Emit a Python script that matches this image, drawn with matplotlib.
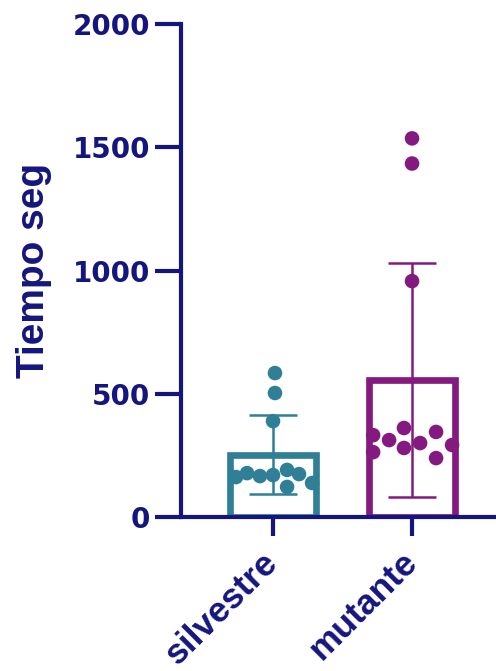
import numpy as np
import matplotlib.pyplot as plt

plt.rcParams['font.family'] = ['DejaVu Sans']
plt.rcParams['font.weight'] = 'bold'

groups = ['silvestre', 'mutante']
colors = ['#2f7f96', '#84197f']
navy = '#15157f'

silvestre = [584, 503, 389, 162, 178, 166, 170, 191, 174, 138, 122]
silvestre_jitter = [0.014, 0.014, 0.0, -0.266, -0.187, -0.094, 0.0, 0.101, 0.187, 0.281, 0.101]
mutante = [1536, 1434, 957, 332, 263, 312, 361, 280, 300, 345, 239, 292]
mutante_jitter = [0.0, 0.0, 0.0, -0.28, -0.28, -0.165, -0.058, -0.058, 0.058, 0.173, 0.173, 0.288]

data = [silvestre, mutante]
jitter = [silvestre_jitter, mutante_jitter]

fig = plt.figure(figsize=(4.96, 6.71), dpi=100)
ax = fig.add_axes([181 / 496, 1 - 517 / 671, 1 - 181 / 496, 493 / 671])

for i, (vals, jit, c) in enumerate(zip(data, jitter, colors)):
    vals = np.array(vals, dtype=float)
    mean = vals.mean()
    sd = vals.std(ddof=1)
    ax.bar(i, mean, width=0.62, facecolor='none', edgecolor=c, linewidth=4.8, zorder=2)
    ax.errorbar(i, mean, yerr=sd, color=c, elinewidth=1.8, capsize=17, capthick=1.8, zorder=3)
    ax.scatter(i + np.array(jit), vals, s=110, color=c, edgecolors='none', zorder=4)

ax.set_ylim(0, 2000)
ax.set_xlim(-0.662, 1.604)
ax.set_yticks([0, 500, 1000, 1500, 2000])
ax.set_xticks([0, 1])
ax.set_xticklabels(groups, rotation=45, ha='right', va='center', rotation_mode='anchor',
                   family='Liberation Sans', fontsize=25.5, fontweight='bold')

for side in ['top', 'right']:
    ax.spines[side].set_visible(False)
for side in ['left', 'bottom']:
    ax.spines[side].set_color(navy)
    ax.spines[side].set_linewidth(3)
    ax.spines[side].set_zorder(5)

ax.tick_params(axis='y', colors=navy, width=3, length=19, labelsize=20, pad=3)
ax.tick_params(axis='x', colors=navy, width=3, length=14, pad=15)
for lbl in ax.get_yticklabels():
    lbl.set_fontweight('bold')

ax.set_ylabel('Tiempo seg', family='Liberation Sans', fontsize=28,
              fontweight='bold', color=navy)
ax.yaxis.set_label_coords(-0.41, 0.5)

fig.savefig('out.png', dpi=100)
